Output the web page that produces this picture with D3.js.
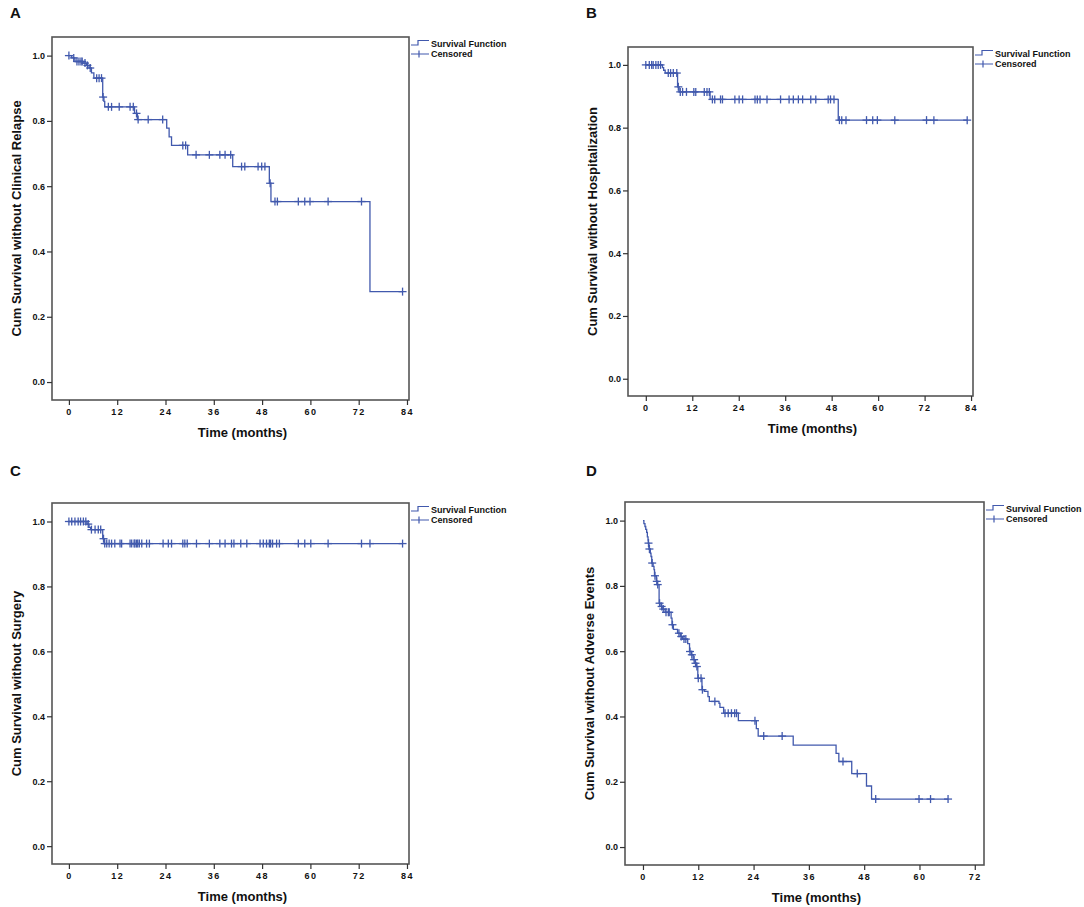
<!DOCTYPE html>
<html>
<head>
<meta charset="utf-8">
<script src="https://cdn.jsdelivr.net/npm/d3@7"></script>
<style>
  body { margin: 0; background: #fff; }
  text { font-family: "Liberation Sans", Arial, sans-serif; font-weight: bold; fill: #111; }
</style>
</head>
<body>
<div class="canvas"></div>
<script>
// ---- data (months, cumulative survival) ----
const monthTicks84 = [0, 12, 24, 36, 48, 60, 72, 84];
const monthTicks72 = [0, 12, 24, 36, 48, 60, 72];
const survTicks = [0, 0.2, 0.4, 0.6, 0.8, 1.0];

// A: clinical relapse
const aTimes = [0, 0.7, 1.5, 3.5, 4.4, 5.0, 5.6, 6.2, 8.4, 8.7, 8.9, 16.3, 17.0, 24.3, 24.9, 25.5, 29.5, 40.7, 49.8, 50.2, 74.8];
const aSurv  = [1.0, 0.993, 0.982, 0.977, 0.970, 0.962, 0.947, 0.931, 0.873, 0.860, 0.843, 0.823, 0.804, 0.778, 0.751, 0.725, 0.696, 0.660, 0.609, 0.553, 0.277];
const aCens  = [0, 1.2, 2.0, 2.5, 3.0, 3.3, 4.0, 4.6, 5.3, 6.9, 7.5, 8.1, 8.5, 9.8, 10.6, 12.5, 15.2, 16.0, 16.8, 17.2, 19.7, 23.3,
                28.3, 29.0, 31.6, 34.9, 37.5, 38.8, 40.2, 42.9, 43.7, 47.0, 47.9, 48.7, 50.0, 51.2, 51.8, 57.0, 58.6, 59.9, 64.4, 72.7, 82.9];

// B: hospitalization
const bTimes = [0, 4.3, 4.6, 5.0, 8.2, 8.6, 16.6, 49.7];
const bSurv  = [1.0, 0.991, 0.983, 0.974, 0.930, 0.914, 0.890, 0.824];
const bCens  = [0, 0.9, 1.5, 1.9, 2.6, 3.2, 3.8, 5.8, 6.4, 7.1, 8.0, 8.4, 8.9, 9.5, 10.5, 12.4, 12.9, 15.1, 15.8, 16.4,
                17.2, 17.8, 19.3, 19.8, 23.0, 24.1, 25.0, 28.2, 28.8, 29.5, 31.3, 34.8, 37.0, 38.1, 39.4, 40.5, 42.6, 43.9,
                47.1, 47.7, 48.6, 50.0, 50.6, 51.7, 57.0, 58.6, 59.8, 64.3, 72.5, 74.4, 83.0];

// C: surgery
const cTimes = [0, 4.5, 5.0, 5.4, 8.4, 8.8];
const cSurv  = [1.0, 0.992, 0.982, 0.975, 0.947, 0.932];
const cCens  = [0, 0.7, 1.5, 2.3, 2.9, 3.6, 4.2, 4.8, 5.6, 6.5, 7.3, 7.9, 8.6, 8.9, 9.4, 10.0, 10.6, 11.4, 12.7, 13.1,
                15.2, 15.6, 16.2, 16.4, 16.8, 17.1, 17.5, 18.1, 19.3, 20.0, 23.4, 24.7, 25.5, 28.3, 28.8, 29.4, 31.7, 34.9,
                37.5, 38.8, 40.4, 41.0, 42.7, 44.2, 47.5, 48.3, 49.1, 49.8, 50.1, 50.6, 51.6, 52.3, 57.0, 58.6, 60.1, 64.4,
                72.7, 74.8, 82.9];

// D: adverse events
const dTimes = [0, 0.2, 0.43, 0.6, 0.8, 0.95, 1.1, 1.16, 1.3, 1.6, 1.74, 1.9, 2.2, 2.39, 2.5, 2.9, 3.1, 3.5, 3.9, 4.3, 4.8,
                6.1, 6.3, 6.6, 7.5, 8.1, 8.6, 9.7, 10.1, 10.5, 10.9, 11.3, 11.6, 11.9, 12.8, 13.3, 14.1, 14.4, 16.5, 16.7,
                17.5, 20.7, 24.6, 25.0, 32.6, 41.9, 42.5, 45.3, 48.5, 49.6];
const dSurv  = [1.0, 0.991, 0.982, 0.973, 0.964, 0.950, 0.940, 0.931, 0.913, 0.900, 0.890, 0.870, 0.860, 0.850, 0.831, 0.814,
                0.804, 0.747, 0.737, 0.729, 0.719, 0.701, 0.681, 0.667, 0.655, 0.645, 0.637, 0.623, 0.599, 0.589, 0.574,
                0.563, 0.553, 0.517, 0.482, 0.477, 0.461, 0.446, 0.440, 0.428, 0.410, 0.387, 0.363, 0.340, 0.312, 0.287,
                0.262, 0.225, 0.187, 0.147];
const dCens  = [1.2, 1.4, 2.0, 2.6, 3.0, 3.2, 3.6, 4.05, 4.4, 5.0, 5.5, 5.7, 6.4, 7.8, 8.3, 8.9, 9.3, 10.2, 10.6, 11.1, 11.4,
                11.7, 12.0, 12.6, 12.9, 15.6, 17.8, 18.5, 19.2, 19.9, 20.3, 24.3, 26.2, 30.2, 43.4, 46.5, 50.5, 59.9, 62.4, 66.2];

const yTitles = [
  'Cum Survival without Clinical Relapse',
  'Cum Survival without Hospitalization',
  'Cum Survival without Surgery',
  'Cum Survival without Adverse Events'
];
const panelLetters = ['A', 'B', 'C', 'D'];

// layout of the four frames (pixels) and their month ranges
const frames = [
  { left: 52,  right: 409, top: 37,  bottom: 400, xMin: -4.2, xMax: 84.5 },
  { left: 628, right: 973, top: 47,  bottom: 396, xMin: -4.6, xMax: 84.5 },
  { left: 52,  right: 409, top: 503, bottom: 864, xMin: -4.2, xMax: 84.5 },
  { left: 625, right: 984, top: 502, bottom: 865, xMin: -3.9, xMax: 74.0 }
];
const letterPos = [[10, 18], [586, 18], [10, 476], [586, 476]];

const panels = [
  { times: aTimes, surv: aSurv, cens: aCens, ticks: monthTicks84 },
  { times: bTimes, surv: bSurv, cens: bCens, ticks: monthTicks84 },
  { times: cTimes, surv: cSurv, cens: cCens, ticks: monthTicks84 },
  { times: dTimes, surv: dSurv, cens: dCens, ticks: monthTicks72 }
];

const lineColor = '#4159ad';
const frameColor = '#555';

const svg = d3.select('.canvas')
  .append('svg')
  .attr('width', 1084)
  .attr('height', 907);

panels.forEach((p, i) => {
  const f = frames[i];
  const g = svg.append('g');

  // scales: SPSS-like padding below 0 and above 1
  const x = d3.scaleLinear()
    .domain([f.xMin, f.xMax])
    .range([f.left, f.right]);
  const y = d3.scaleLinear()
    .domain([-0.055, 1.057])
    .range([f.bottom, f.top]);

  // frame
  g.append('rect')
    .attr('x', f.left).attr('y', f.top)
    .attr('width', f.right - f.left).attr('height', f.bottom - f.top)
    .attr('fill', 'none')
    .attr('stroke', frameColor)
    .attr('stroke-width', 1.6);

  // axes
  const xAxisGroup = g.append('g')
    .attr('transform', `translate(0, ${f.bottom})`)
    .call(d3.axisBottom(x).tickValues(p.ticks).tickSize(5).tickPadding(4));
  const yAxisGroup = g.append('g')
    .attr('transform', `translate(${f.left}, 0)`)
    .call(d3.axisLeft(y).tickValues(survTicks).tickFormat(d3.format('.1f')).tickSize(5).tickPadding(2));

  [xAxisGroup, yAxisGroup].forEach(ax => {
    ax.select('.domain').remove();
    ax.selectAll('line').attr('stroke', '#333').attr('stroke-width', 1.2);
    ax.selectAll('text')
      .attr('font-size', 9)
      .attr('font-family', '"Liberation Sans", Arial, sans-serif')
      .attr('font-weight', 'bold')
      .attr('fill', '#111');
  });
  xAxisGroup.selectAll('text').attr('letter-spacing', 1.5);

  // axis titles
  g.append('text')
    .attr('x', (f.left + f.right) / 2 + 12)
    .attr('y', f.bottom + 37)
    .attr('text-anchor', 'middle')
    .attr('font-size', 13)
    .text('Time (months)');

  g.append('text')
    .attr('transform', `translate(${f.left - 31}, ${(f.top + f.bottom) / 2}) rotate(-90)`)
    .attr('text-anchor', 'middle')
    .attr('font-size', 13)
    .text(yTitles[i]);

  // panel letter
  g.append('text')
    .attr('x', letterPos[i][0])
    .attr('y', letterPos[i][1])
    .attr('font-size', 15)
    .text(panelLetters[i]);

  // step curve
  const lastT = Math.max(d3.max(p.cens), d3.max(p.times));
  const pts = p.times.map((t, k) => [t, p.surv[k]]);
  pts.push([lastT, p.surv[p.surv.length - 1]]);

  const line = d3.line()
    .x(d => x(d[0]))
    .y(d => y(d[1]))
    .curve(d3.curveStepAfter);

  g.append('path')
    .datum(pts)
    .attr('d', line)
    .attr('fill', 'none')
    .attr('stroke', lineColor)
    .attr('stroke-width', 1.3);

  // censored marks sit on the curve at the censoring time
  const survAt = t => p.surv[Math.max(0, d3.bisectRight(p.times, t) - 1)];
  const marks = g.selectAll('.cens')
    .data(p.cens)
    .enter()
    .append('g')
    .attr('class', 'cens')
    .attr('transform', t => `translate(${x(t)}, ${y(survAt(t))})`);
  marks.append('line')
    .attr('x1', 0).attr('x2', 0).attr('y1', -4).attr('y2', 4)
    .attr('stroke', lineColor).attr('stroke-width', 1.3);
  marks.append('line')
    .attr('x1', -4).attr('x2', 4).attr('y1', 0).attr('y2', 0)
    .attr('stroke', lineColor).attr('stroke-width', 1.3);

  // legend
  const lx = f.right + 2;
  const ly = f.top + 7;
  const leg = g.append('g').attr('transform', `translate(${lx}, ${ly})`);
  leg.append('path')
    .attr('d', 'M0,1 H7 V-3.5 H18')
    .attr('fill', 'none').attr('stroke', lineColor).attr('stroke-width', 1.2);
  leg.append('path')
    .attr('d', 'M0,10 H18 M8,6.5 V13.5')
    .attr('fill', 'none').attr('stroke', lineColor).attr('stroke-width', 1.2);
  leg.append('text').attr('x', 20).attr('y', 3).attr('font-size', 9).text('Survival Function');
  leg.append('text').attr('x', 20).attr('y', 13).attr('font-size', 9).text('Censored');
});
</script>
</body>
</html>
